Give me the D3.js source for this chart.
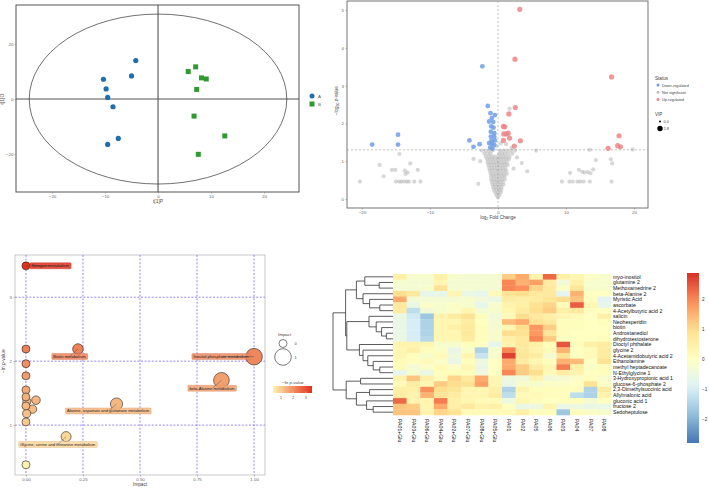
<!DOCTYPE html>
<html>
<head>
<meta charset="utf-8">
<script src="https://cdn.jsdelivr.net/npm/d3@7"></script>
<style>
body { margin: 0; background: #fff; }
text { font-family: "Liberation Sans", Arial, sans-serif; }
</style>
</head>
<body>
<div id="chart"></div>
<script>
// ---------- PCA scores ----------
const pcaA = [[-4.2, 14.0], [-5.0, 8.4], [-10.3, 7.2], [-9.8, 3.7], [-9.5, 0.6], [-8.5, -2.8], [-7.5, -14.3], [-9.5, -16.5]];
const pcaB = [[5.7, 10.0], [7.1, 11.7], [8.2, 7.7], [9.1, 7.3], [7.3, 3.5], [6.8, -6.2], [12.6, -13.4], [7.6, -20.1]];
const pcaEllipse = [24.3, 30.9];
const pcaTicksX = [-20, -10, 0, 10, 20];
const pcaTicksY = [-20, 0, 20];

// ---------- volcano ----------
const volUp = [[3.2, 5.02], [2.5, 3.70], [16.7, 3.23], [2.55, 2.42], [1.6, 2.25], [0.8, 1.92], [1.0, 1.91],
  [0.85, 1.72], [1.2, 1.72], [1.5, 1.74], [1.7, 1.61], [0.8, 1.55], [3.3, 1.54], [2.4, 1.40],
  [17.8, 1.67], [17.6, 1.41], [18.0, 1.38], [16.2, 1.34]];
const volDown = [[-2.3, 3.51], [-1.5, 2.46], [-14.7, 1.70], [-18.5, 1.44], [-14.7, 1.44], [-4.2, 1.55], [-3.6, 1.38],
  [-2.7, 1.45], [-1.1, 2.27], [-0.45, 2.22], [-0.9, 2.14], [-1.3, 2.05], [-0.7, 2.04], [-1.0, 1.92],
  [-0.65, 1.89], [-1.05, 1.78], [-0.55, 1.74], [-1.05, 1.65], [-0.55, 1.65], [-1.3, 1.48], [-0.9, 1.46],
  [-0.55, 1.43], [-1.15, 1.36], [-0.8, 1.33], [-0.45, 1.55], [-0.95, 1.55]];
const volNS = [
  [-14.5, 1.19], [-17.4, 0.90], [-12.9, 0.94], [-15.6, 0.77], [-15.1, 0.77], [-13.7, 0.75], [-11.8, 0.77],
  [-13.3, 0.70], [-13.6, 0.66], [-16.8, 0.60], [-20.3, 0.46], [-15.0, 0.46], [-14.5, 0.46], [-14.2, 0.46],
  [-13.8, 0.46], [-13.4, 0.46], [-13.1, 0.46], [-12.3, 0.46], [-11.4, 0.46],
  [5.6, 1.28], [13.5, 1.30], [19.8, 1.31], [14.4, 1.03], [16.6, 1.05], [16.8, 0.94], [4.3, 0.73],
  [10.6, 0.69], [11.9, 0.77], [12.4, 0.72], [12.7, 0.70], [13.2, 0.71], [13.6, 0.68], [14.0, 0.78],
  [9.4, 0.46], [10.5, 0.46], [11.0, 0.46], [11.7, 0.46], [12.1, 0.46], [12.6, 0.46], [13.5, 0.46], [16.7, 0.46],
  [1.7, 2.39], [0.4, 1.47], [1.2, 1.45], [2.0, 1.35], [-0.2, 1.40], [-3.6, 1.06], [-2.9, 0.40],
  [3.5, 0.95], [2.8, 1.10], [-2.6, 1.00], [2.3, 0.80],
  [-2.4, 1.28], [-1.8, 1.28], [-1.3, 1.28], [-0.8, 1.28], [0.3, 1.28], [0.8, 1.28], [1.3, 1.28], [1.9, 1.28], [2.5, 1.28],
  [-2.0, 1.2], [-1.5, 1.2], [-1.1, 1.2], [0.2, 1.2], [0.6, 1.2], [1.0, 1.2], [1.5, 1.2], [2.1, 1.2],
  [-1.8, 1.12], [-1.3, 1.12], [-0.9, 1.12], [-0.5, 1.12], [0.0, 1.12], [0.4, 1.12], [0.8, 1.12], [1.2, 1.12], [1.7, 1.12],
  [-1.6, 1.05], [-1.2, 1.05], [-0.8, 1.05], [-0.4, 1.05], [0.0, 1.05], [0.4, 1.05], [0.8, 1.05], [1.2, 1.05], [1.6, 1.05],
  [-1.5, 0.97], [-1.1, 0.97], [-0.7, 0.97], [-0.3, 0.97], [0.1, 0.97], [0.5, 0.97], [0.9, 0.97], [1.3, 0.97],
  [-1.4, 0.9], [-1.0, 0.9], [-0.6, 0.9], [-0.2, 0.9], [0.2, 0.9], [0.6, 0.9], [1.0, 0.9], [1.4, 0.9],
  [-1.3, 0.82], [-0.9, 0.82], [-0.5, 0.82], [-0.1, 0.82], [0.3, 0.82], [0.7, 0.82], [1.1, 0.82],
  [-1.2, 0.75], [-0.8, 0.75], [-0.4, 0.75], [0.0, 0.75], [0.4, 0.75], [0.8, 0.75], [1.2, 0.75],
  [-1.1, 0.67], [-0.7, 0.67], [-0.3, 0.67], [0.1, 0.67], [0.5, 0.67], [0.9, 0.67], [1.3, 0.67],
  [-1.0, 0.6], [-0.6, 0.6], [-0.2, 0.6], [0.2, 0.6], [0.6, 0.6], [1.0, 0.6],
  [-1.0, 0.52], [-0.6, 0.52], [-0.2, 0.52], [0.2, 0.52], [0.6, 0.52], [1.0, 0.52],
  [-0.9, 0.45], [-0.5, 0.45], [-0.1, 0.45], [0.3, 0.45], [0.7, 0.45],
  [-0.8, 0.38], [-0.4, 0.38], [0.0, 0.38], [0.4, 0.38], [0.8, 0.38],
  [-0.7, 0.31], [-0.3, 0.31], [0.1, 0.31], [0.5, 0.31],
  [-0.6, 0.24], [-0.2, 0.24], [0.2, 0.24], [0.5, 0.24],
  [-0.4, 0.17], [0.0, 0.17], [0.4, 0.17],
  [-0.2, 0.10], [0.2, 0.10], [0.0, 0.04]];
const volTicksX = [-20, -10, 0, 10, 20];
const volTicksY = [0, 1, 2, 3, 4, 5];
const volPThreshold = 1.3;
const statusNames = ["Down-regulated", "Not significant", "Up-regulated"];
const vipLegend = [0.0, 2.8];

// ---------- pathway impact ----------
const pathImpact = [0, 1.0, 0.228, 0, 0, 0, 0.857, 0, 0, 0.044, 0.004, 0.397, 0, 0.029, 0.003, 0, 0.176, 0];
const pathLnP = [3.49, 2.07, 2.19, 2.19, 1.96, 1.77, 1.70, 1.55, 1.44, 1.39, 1.37, 1.33, 1.30, 1.25, 1.18, 1.05, 0.82, 0.38];
const pathLabel = ["Nitrogen metabolism", "Inositol phosphate metabolism", "Biotin metabolism", "", "", "",
  "beta-Alanine metabolism", "", "", "", "", "Alanine, aspartate and glutamate metabolism", "", "", "", "",
  "Glycine, serine and threonine metabolism", ""];
const pathTicksX = [0, 0.25, 0.5, 0.75, 1.0];
const pathTicksY = [1, 2, 3];

// ---------- heatmap ----------
const heatRows = ["myo-inositol", "glutamine 2", "Methoxamedrine 2", "beta-Alanine 2", "Myristic Acid", "ascorbate",
  "4-Acetylbutyric acid 2", "salicin", "Neohesperidin", "biotin", "Androstanediol", "dihydrotestosterone",
  "Dioctyl phthalate", "glycine 2", "4-Acetamidobutyric acid 2", "Ethanolamine", "methyl heptadecanoate",
  "N-Ethylglycine 1", "3-Hydroxypropionic acid 1", "glucose-6-phosphate 2", "2,3-Dimethylsuccinic acid",
  "Allylmalonic acid", "gluconic acid 1", "fructose 2", "Sedoheptulose"];
const heatCols = ["PA01+Glu", "PA03+Glu", "PA06+Glu", "PA04+Glu", "PA02+Glu", "PA07+Glu", "PA08+Glu", "PA05+Glu",
  "PA01", "PA02", "PA05", "PA06", "PA03", "PA04", "PA07", "PA08"];
const heatValues = [
  [0.5, -0.2, -0.2, 0.5, -0.2, -0.3, -0.3, -0.3, 1.2, 1.6, 0.4, 2.3, 0.5, 0.3, -0.1, -0.2],
  [-0.2, -0.3, -0.3, 0.3, -0.3, -0.3, -0.3, -0.3, 2.0, 1.5, 1.7, 0.6, -0.4, 0.5, -0.2, -0.2],
  [-0.3, -0.3, -0.2, 0.9, -0.3, -0.3, -0.3, -0.3, 2.0, 1.9, 1.1, 0.7, -0.1, 0.8, -0.2, -0.2],
  [1.0, 0.7, -0.7, -0.7, 0.3, -0.6, -0.7, 0.2, 0.9, 1.0, 0.7, 0.7, -0.8, 1.5, 0.0, 0.0],
  [1.6, -0.3, -0.3, -0.3, -0.3, -0.2, -0.4, -0.6, 0.6, 0.5, 0.6, 0.8, 1.0, 1.3, 0.1, -0.8],
  [0.7, -0.6, -0.1, -0.2, -0.1, -0.2, -0.7, -0.2, 0.4, 0.5, 0.9, 1.1, 0.2, 2.4, 0.3, -0.7],
  [0.6, -1.3, -0.4, -0.2, -0.1, 0.3, -0.3, -0.2, 0.3, 0.6, 1.0, 1.2, 0.5, 0.7, 0.1, 0.0],
  [-0.6, -1.1, -1.7, 0.4, 0.6, 0.9, 0.1, -0.4, 0.2, 1.0, 0.7, 0.5, 0.3, 0.2, 0.0, 0.5],
  [-0.6, -1.0, -1.5, 0.3, 0.3, 0.6, 0.0, -0.3, 1.4, 1.6, 0.9, 0.7, 0.1, 0.1, 0.0, 0.1],
  [-0.6, -1.0, -1.5, 0.3, 0.5, 0.7, 0.1, -0.3, 0.3, 1.0, 1.8, 1.2, 0.1, 0.1, 0.0, 0.0],
  [-0.6, -1.0, -1.5, 0.3, 0.3, 0.7, 0.1, -0.2, 1.0, 0.9, 1.8, 0.8, 0.1, 0.0, 0.0, 0.0],
  [-0.6, -1.0, -1.4, 0.3, 0.3, 0.6, 0.1, -0.2, 0.5, 0.7, 2.0, 1.2, 0.0, 0.0, 0.0, 0.1],
  [0.4, 0.4, 0.3, -0.2, -0.2, 0.1, 0.0, -0.7, 0.4, 0.7, 0.5, 0.1, 2.5, 0.1, 0.5, 0.6],
  [0.3, 0.5, 0.1, -0.1, -0.6, -0.1, -1.5, -0.2, 2.0, 0.7, 0.4, 0.2, 1.5, 0.0, 0.2, 0.6],
  [0.3, 0.1, -0.2, 0.2, -0.5, 0.3, -1.2, -0.2, 2.7, 0.8, 0.6, -0.3, 0.9, 0.0, 0.2, 0.6],
  [0.2, 0.1, 0.2, -0.1, -0.6, 0.1, -0.5, 0.0, 1.6, 0.6, 0.3, 0.1, 1.5, 1.4, 0.0, 0.9],
  [0.2, -0.3, -0.1, 0.2, -0.1, 0.3, -0.6, 0.0, 1.6, 1.2, 0.6, 0.3, 2.1, 0.5, -0.1, 0.1],
  [-0.7, -0.2, -0.6, 0.1, 0.1, 0.1, -0.5, 0.0, 2.0, 1.2, 1.0, 0.2, 0.6, 0.4, 0.0, 0.1],
  [0.4, 1.3, 0.5, 0.1, 1.1, 0.7, 1.6, 0.3, -0.5, -0.4, 0.4, -0.4, -0.3, -0.1, 0.1, -0.2],
  [0.2, 0.6, 0.3, 1.2, 1.0, 0.9, 1.7, 0.3, -0.6, -0.2, -0.2, -0.1, -0.1, 0.0, 0.9, -0.1],
  [0.5, 0.5, 1.9, 1.0, 0.8, 0.3, 0.3, 0.5, -1.5, 0.4, 0.1, 0.1, 0.1, 0.1, -1.5, 0.6],
  [0.6, 0.4, 1.5, 0.8, 0.6, 0.3, 0.3, 0.6, -1.3, 0.2, 0.2, 0.1, 0.1, -1.3, -1.5, 0.4],
  [2.3, 0.4, 0.3, 2.1, 0.5, 0.3, 0.2, 0.2, -0.5, 0.3, 0.1, 0.0, 0.1, 0.1, -0.3, 0.0],
  [1.3, 1.2, 0.3, 1.6, 0.5, 0.7, 0.4, 0.5, 0.0, -0.6, -0.5, 0.4, -0.6, -0.5, -0.6, -0.6],
  [1.3, 1.3, 0.4, 1.1, 0.9, 0.2, 0.2, 0.2, 0.2, 0.5, 0.1, 0.1, -1.7, 0.1, -0.1, -0.2]];
// row clustering, hclust style: negative = leaf -(row+1), positive = earlier merge (1-based)
const rowMerges = [
  [-2, -3, 0.23], [-1, 1, 0.47], [-6, -7, 0.22], [-5, 3, 0.39], [-4, 4, 0.50], [2, 5, 0.61],
  [-11, -12, 0.11], [-10, 7, 0.19], [-9, 8, 0.28], [-8, 9, 0.40],
  [-17, -18, 0.22], [-16, 11, 0.33], [-15, 12, 0.42], [-14, 13, 0.50], [-13, 14, 0.56],
  [10, 15, 0.77], [6, 16, 0.79],
  [-19, -20, 0.54], [-21, -22, 0.39], [-24, -25, 0.33], [-23, 20, 0.44], [19, 21, 0.61], [18, 22, 0.78],
  [17, 23, 1.0]];
const heatTicks = [-2, -1, 0, 1, 2];
const heatRange = [-2.8, 2.87];

const W = 709, H = 488;
const svg = d3.select("#chart").append("svg").attr("width", W).attr("height", H);
const defs = svg.append("defs");
const tickFont = 4.4, tickColor = "#666";

function styleAxis(g) {
  g.select(".domain").remove();
  g.selectAll("line").attr("stroke", "#777").attr("stroke-width", 0.5);
  g.selectAll("text").attr("font-size", tickFont).attr("fill", tickColor);
}

// ================= PCA =================
{
  const x = d3.scaleLinear().domain([-26.8, 26.6]).range([16, 299]);
  const y = d3.scaleLinear().domain([-33.8, 34.2]).range([192, 5]);
  const g = svg.append("g");
  g.append("rect").attr("x", 16).attr("y", 5).attr("width", 283).attr("height", 187)
    .attr("fill", "none").attr("stroke", "#555").attr("stroke-width", 1);
  g.append("line").attr("x1", x(0)).attr("x2", x(0)).attr("y1", 5).attr("y2", 192)
    .attr("stroke", "#555").attr("stroke-width", 1.1);
  g.append("line").attr("x1", 16).attr("x2", 299).attr("y1", y(0)).attr("y2", y(0))
    .attr("stroke", "#555").attr("stroke-width", 1.1);
  g.append("ellipse").attr("cx", x(0)).attr("cy", y(0))
    .attr("rx", x(pcaEllipse[0]) - x(0)).attr("ry", y(0) - y(pcaEllipse[1]))
    .attr("fill", "none").attr("stroke", "#333").attr("stroke-width", 0.7);
  g.append("g").attr("transform", "translate(0,192)")
    .call(d3.axisBottom(x).tickValues(pcaTicksX).tickSize(1.5).tickPadding(1.5)).call(styleAxis);
  g.append("g").attr("transform", "translate(16,0)")
    .call(d3.axisLeft(y).tickValues(pcaTicksY).tickSize(1.5).tickPadding(1)).call(styleAxis);
  g.append("text").attr("x", x(0)).attr("y", 203).attr("text-anchor", "middle")
    .attr("font-size", 5).attr("fill", "#555").text("t[1]P");
  g.append("text").attr("transform", `translate(4,${y(0)}) rotate(-90)`).attr("text-anchor", "middle")
    .attr("font-size", 5).attr("fill", "#555").text("t[1]O");
  g.selectAll(".pa").data(pcaA).enter().append("circle")
    .attr("cx", d => x(d[0])).attr("cy", d => y(d[1])).attr("r", 2.6).attr("fill", "#1f6fae");
  g.selectAll(".pb").data(pcaB).enter().append("rect")
    .attr("x", d => x(d[0]) - 2.5).attr("y", d => y(d[1]) - 2.5).attr("width", 5).attr("height", 5)
    .attr("fill", "#2f9a2f");
  g.append("circle").attr("cx", 312).attr("cy", 96).attr("r", 2.5).attr("fill", "#1f6fae");
  g.append("rect").attr("x", 309.5).attr("y", 101.5).attr("width", 5).attr("height", 5).attr("fill", "#2f9a2f");
  g.append("text").attr("x", 318).attr("y", 97.5).attr("font-size", 4.4).attr("fill", "#555").text("A");
  g.append("text").attr("x", 318).attr("y", 105.5).attr("font-size", 4.4).attr("fill", "#555").text("B");
}

// ================= Volcano =================
{
  const x = d3.scaleLinear().domain([-22.2, 22.06]).range([347, 648]);
  const y = d3.scaleLinear().domain([-0.24, 5.24]).range([208, 1]);
  const g = svg.append("g");
  const colors = { down: "#6f9de8", ns: "#bdbdbd", up: "#ee8585" };
  g.append("rect").attr("x", 347).attr("y", 1).attr("width", 301).attr("height", 207)
    .attr("fill", "none").attr("stroke", "#666").attr("stroke-width", 0.9);
  g.append("g").attr("transform", "translate(0,208)")
    .call(d3.axisBottom(x).tickValues(volTicksX).tickSize(1.5).tickPadding(1.5)).call(styleAxis);
  g.append("g").attr("transform", "translate(347,0)")
    .call(d3.axisLeft(y).tickValues(volTicksY).tickFormat(d3.format("d")).tickSize(1.5).tickPadding(1.5)).call(styleAxis);
  g.append("text").attr("x", x(0)).attr("y", 219).attr("text-anchor", "middle")
    .attr("font-size", 4.6).attr("fill", "#444")
    .html('log<tspan font-size="3.3" dy="1">2</tspan><tspan dy="-1"> Fold Change</tspan>');
  g.append("text").attr("transform", `translate(338,${y(2.6)}) rotate(-90)`).attr("text-anchor", "middle")
    .attr("font-size", 4.6).attr("fill", "#444")
    .html('\u2212log<tspan font-size="3.3" dy="1">10</tspan><tspan dy="-1"> </tspan><tspan font-style="italic">p</tspan>-value');
  g.selectAll(".ns").data(volNS).enter().append("circle")
    .attr("cx", d => x(d[0])).attr("cy", d => y(d[1])).attr("r", 2.1)
    .attr("fill", colors.ns).attr("fill-opacity", 0.6);
  g.append("line").attr("x1", x(0)).attr("x2", x(0)).attr("y1", 1).attr("y2", 208)
    .attr("stroke", "#999").attr("stroke-width", 0.6).attr("stroke-dasharray", "2,2");
  g.append("line").attr("x1", 347).attr("x2", 648).attr("y1", y(volPThreshold)).attr("y2", y(volPThreshold))
    .attr("stroke", "#999").attr("stroke-width", 0.6).attr("stroke-dasharray", "2,2");
  g.selectAll(".dn").data(volDown).enter().append("circle")
    .attr("cx", d => x(d[0])).attr("cy", d => y(d[1])).attr("r", 2.4)
    .attr("fill", colors.down).attr("fill-opacity", 0.85);
  g.selectAll(".up").data(volUp).enter().append("circle")
    .attr("cx", d => x(d[0])).attr("cy", d => y(d[1])).attr("r", 2.6)
    .attr("fill", colors.up).attr("fill-opacity", 0.85);
  // legend
  g.append("text").attr("x", 655).attr("y", 80).attr("font-size", 4.6).attr("fill", "#444").text("Status");
  const cl = [colors.down, colors.ns, colors.up];
  statusNames.forEach((s, i) => {
    g.append("circle").attr("cx", 658).attr("cy", 85 + i * 7.2).attr("r", 1.5).attr("fill", cl[i]);
    g.append("text").attr("x", 662).attr("y", 86.5 + i * 7.2).attr("font-size", 3.8).attr("fill", "#444").text(s);
  });
  g.append("text").attr("x", 655).attr("y", 116).attr("font-size", 4.6).attr("fill", "#444").text("VIP");
  const vr = d3.scaleLinear().domain([0, 2.8]).range([1, 2.7]);
  vipLegend.forEach((v, i) => {
    g.append("circle").attr("cx", 660).attr("cy", 121.5 + i * 7).attr("r", vr(v)).attr("fill", "#000");
    g.append("text").attr("x", 663.5).attr("y", 123 + i * 7).attr("font-size", 3.8).attr("fill", "#444").text(v.toFixed(1));
  });
}

// ================= Pathway impact =================
{
  const x = d3.scaleLinear().domain([-0.048, 1.048]).range([15, 265]);
  const y = d3.scaleLinear().domain([0.22, 3.66]).range([475, 255]);
  const rArea = d3.scaleLinear().domain([0, 1]).range([16, 69]);
  const r = v => Math.sqrt(rArea(v));
  const col = d3.scaleLinear().domain([0.36, 3.49]).range(["#fff3ae", "#e4301c"]).interpolate(d3.interpolateRgb);
  const g = svg.append("g");
  g.append("rect").attr("x", 15).attr("y", 255).attr("width", 250).attr("height", 220)
    .attr("fill", "none").attr("stroke", "#bbb").attr("stroke-width", 0.8);
  pathTicksX.forEach(t => g.append("line").attr("x1", x(t)).attr("x2", x(t)).attr("y1", 255).attr("y2", 475)
    .attr("stroke", "#7a6cf0").attr("stroke-width", 0.8).attr("stroke-dasharray", "2,1.6"));
  pathTicksY.forEach(t => g.append("line").attr("x1", 15).attr("x2", 265).attr("y1", y(t)).attr("y2", y(t))
    .attr("stroke", "#7a6cf0").attr("stroke-width", 0.8).attr("stroke-dasharray", "2,1.6"));
  g.append("g").attr("transform", "translate(0,475)")
    .call(d3.axisBottom(x).tickValues(pathTicksX).tickFormat(d3.format(".2f")).tickSize(1.5).tickPadding(1.5)).call(styleAxis);
  g.append("g").attr("transform", "translate(15,0)")
    .call(d3.axisLeft(y).tickValues(pathTicksY).tickFormat(d3.format("d")).tickSize(1.5).tickPadding(1.5)).call(styleAxis);
  g.append("text").attr("x", x(0.5)).attr("y", 486).attr("text-anchor", "middle")
    .attr("font-size", 4.8).attr("fill", "#444").text("Impact");
  g.append("text").attr("transform", `translate(5,${y(2)}) rotate(-90)`).attr("text-anchor", "middle")
    .attr("font-size", 4.8).attr("fill", "#444")
    .html('\u2212ln <tspan font-style="italic">p</tspan>-value');

  const pts = pathImpact.map((v, i) => ({ x: v, y: pathLnP[i], label: pathLabel[i] }));
  // draw large bubbles first so small ones sit on top
  const order = pts.slice().sort((a, b) => b.x - a.x);
  g.selectAll(".bub").data(order).enter().append("circle")
    .attr("cx", d => x(d.x)).attr("cy", d => y(d.y)).attr("r", d => r(d.x))
    .attr("fill", d => col(d.y)).attr("stroke", "#222").attr("stroke-width", 0.6);

  // label nudges (px) relative to bubble centre
  const nudge = {
    "Nitrogen metabolism": [5.5, 0, "start"],
    "Inositol phosphate metabolism": [-33, 0, "middle"],
    "Biotin metabolism": [-8.5, 7.5, "middle"],
    "beta-Alanine metabolism": [-9.5, 8, "middle"],
    "Alanine, aspartate and glutamate metabolism": [-8.5, 7, "middle"],
    "Glycine, serine and threonine metabolism": [-8.5, 8, "middle"]
  };
  const lg = g.append("g");
  pts.filter(d => d.label).forEach(d => {
    const [dx, dy, anchor] = nudge[d.label];
    const px = x(d.x), py = y(d.y);
    const one = lg.append("g");
    const seg = one.append("line");
    const box = one.append("rect");
    const t = one.append("text").attr("font-size", 4.1).attr("fill", "#222")
      .attr("text-anchor", anchor).attr("x", px + dx).attr("y", py + dy + 1.4).text(d.label);
    const bb = t.node().getBBox();
    seg.attr("x1", bb.x + bb.width / 2).attr("y1", bb.y + bb.height / 2)
      .attr("x2", px).attr("y2", py).attr("stroke", "#444").attr("stroke-width", 0.4);
    box.attr("x", bb.x - 1.5).attr("y", bb.y - 0.5).attr("width", bb.width + 3)
      .attr("height", bb.height + 1).attr("rx", 1).attr("fill", col(d.y)).attr("fill-opacity", 0.85)
      .attr("stroke", d3.color(col(d.y)).darker(0.4)).attr("stroke-width", 0.4);
    seg.raise();
    t.raise();
  });

  // size legend
  g.append("text").attr("x", 278).attr("y", 336).attr("font-size", 4.4).attr("fill", "#444").text("Impact");
  [0, 1].forEach((v, i) => {
    const cy = i === 0 ? 343.5 : 357;
    g.append("circle").attr("cx", 283).attr("cy", cy).attr("r", r(v))
      .attr("fill", "#fff").attr("stroke", "#222").attr("stroke-width", 0.6);
    g.append("text").attr("x", 294.5).attr("y", cy + 1.5).attr("font-size", 4).attr("fill", "#444").text(v);
  });
  // colour legend
  g.append("text").attr("x", 293).attr("y", 383.5).attr("text-anchor", "middle").attr("font-size", 4.4)
    .attr("fill", "#444").html('\u2212ln <tspan font-style="italic">p</tspan>-value');
  const grad = defs.append("linearGradient").attr("id", "pgrad");
  d3.range(0, 1.01, 0.1).forEach(t => grad.append("stop").attr("offset", t)
    .attr("stop-color", col(0.36 + t * (3.49 - 0.36))));
  const lx = d3.scaleLinear().domain([0.36, 3.49]).range([273, 312]);
  g.append("rect").attr("x", 273).attr("y", 386).attr("width", 39).attr("height", 7).attr("fill", "url(#pgrad)");
  [1, 2, 3].forEach(v => {
    g.append("line").attr("x1", lx(v)).attr("x2", lx(v)).attr("y1", 391.5).attr("y2", 393).attr("stroke", "#fff").attr("stroke-width", 0.4);
    g.append("text").attr("x", lx(v)).attr("y", 398.5).attr("text-anchor", "middle").attr("font-size", 3.8)
      .attr("fill", "#555").text(v);
  });
}

// ================= Heatmap =================
{
  const x = d3.scaleBand().domain(heatCols.map((c, i) => i)).range([393, 611]);
  const y = d3.scaleBand().domain(heatRows.map((r, i) => i)).range([274, 415]);
  const pal = ["#4575B4", "#91BFDB", "#E0F3F8", "#FFFFBF", "#FEE090", "#FC8D59", "#D73027"];
  const col = d3.scaleLinear()
    .domain(d3.range(7).map(i => heatRange[0] + i * (heatRange[1] - heatRange[0]) / 6)).range(pal);
  const g = svg.append("g");
  heatValues.forEach((row, ri) => {
    g.selectAll(".r" + ri).data(row).enter().append("rect")
      .attr("x", (v, ci) => x(ci)).attr("y", y(ri)).attr("width", x.bandwidth() + 0.3)
      .attr("height", y.bandwidth() + 0.3).attr("fill", v => col(v));
  });
  g.selectAll(".rl").data(heatRows).enter().append("text")
    .attr("x", 613).attr("y", (d, i) => y(i) + y.bandwidth() / 2).attr("dy", "0.36em")
    .attr("font-size", 5.2).attr("fill", "#111").text(d => d);
  g.selectAll(".cl").data(heatCols).enter().append("text")
    .attr("transform", (d, i) => `translate(${x(i) + x.bandwidth() / 2},419) rotate(90)`)
    .attr("dy", "0.36em").attr("font-size", 5.2).attr("fill", "#111").text(d => d);

  // dendrogram
  const hx = d3.scaleLinear().domain([0, 1]).range([393, 333]);
  const nodes = [];
  const pos = ref => ref < 0 ? { y: y(-ref - 1) + y.bandwidth() / 2, h: 0 } : nodes[ref - 1];
  rowMerges.forEach(([a, b, h]) => {
    const A = pos(a), B = pos(b);
    g.append("path").attr("d", `M${hx(A.h)},${A.y}H${hx(h)}V${B.y}H${hx(B.h)}`)
      .attr("fill", "none").attr("stroke", "#333").attr("stroke-width", 0.8);
    nodes.push({ y: (A.y + B.y) / 2, h: h });
  });

  // colour bar
  const cy = d3.scaleLinear().domain(heatRange).range([443, 273]);
  const grad = defs.append("linearGradient").attr("id", "hgrad")
    .attr("x1", 0).attr("x2", 0).attr("y1", 1).attr("y2", 0);
  d3.range(0, 1.001, 0.05).forEach(t => grad.append("stop").attr("offset", t)
    .attr("stop-color", col(heatRange[0] + t * (heatRange[1] - heatRange[0]))));
  g.append("rect").attr("x", 687).attr("y", 273).attr("width", 12).attr("height", 170).attr("fill", "url(#hgrad)");
  heatTicks.forEach(v => {
    g.append("text").attr("x", 702).attr("y", cy(v)).attr("dy", "0.36em").attr("font-size", 4.6)
      .attr("fill", "#333").text(d3.format("")(v));
  });
}
</script>
</body>
</html>
